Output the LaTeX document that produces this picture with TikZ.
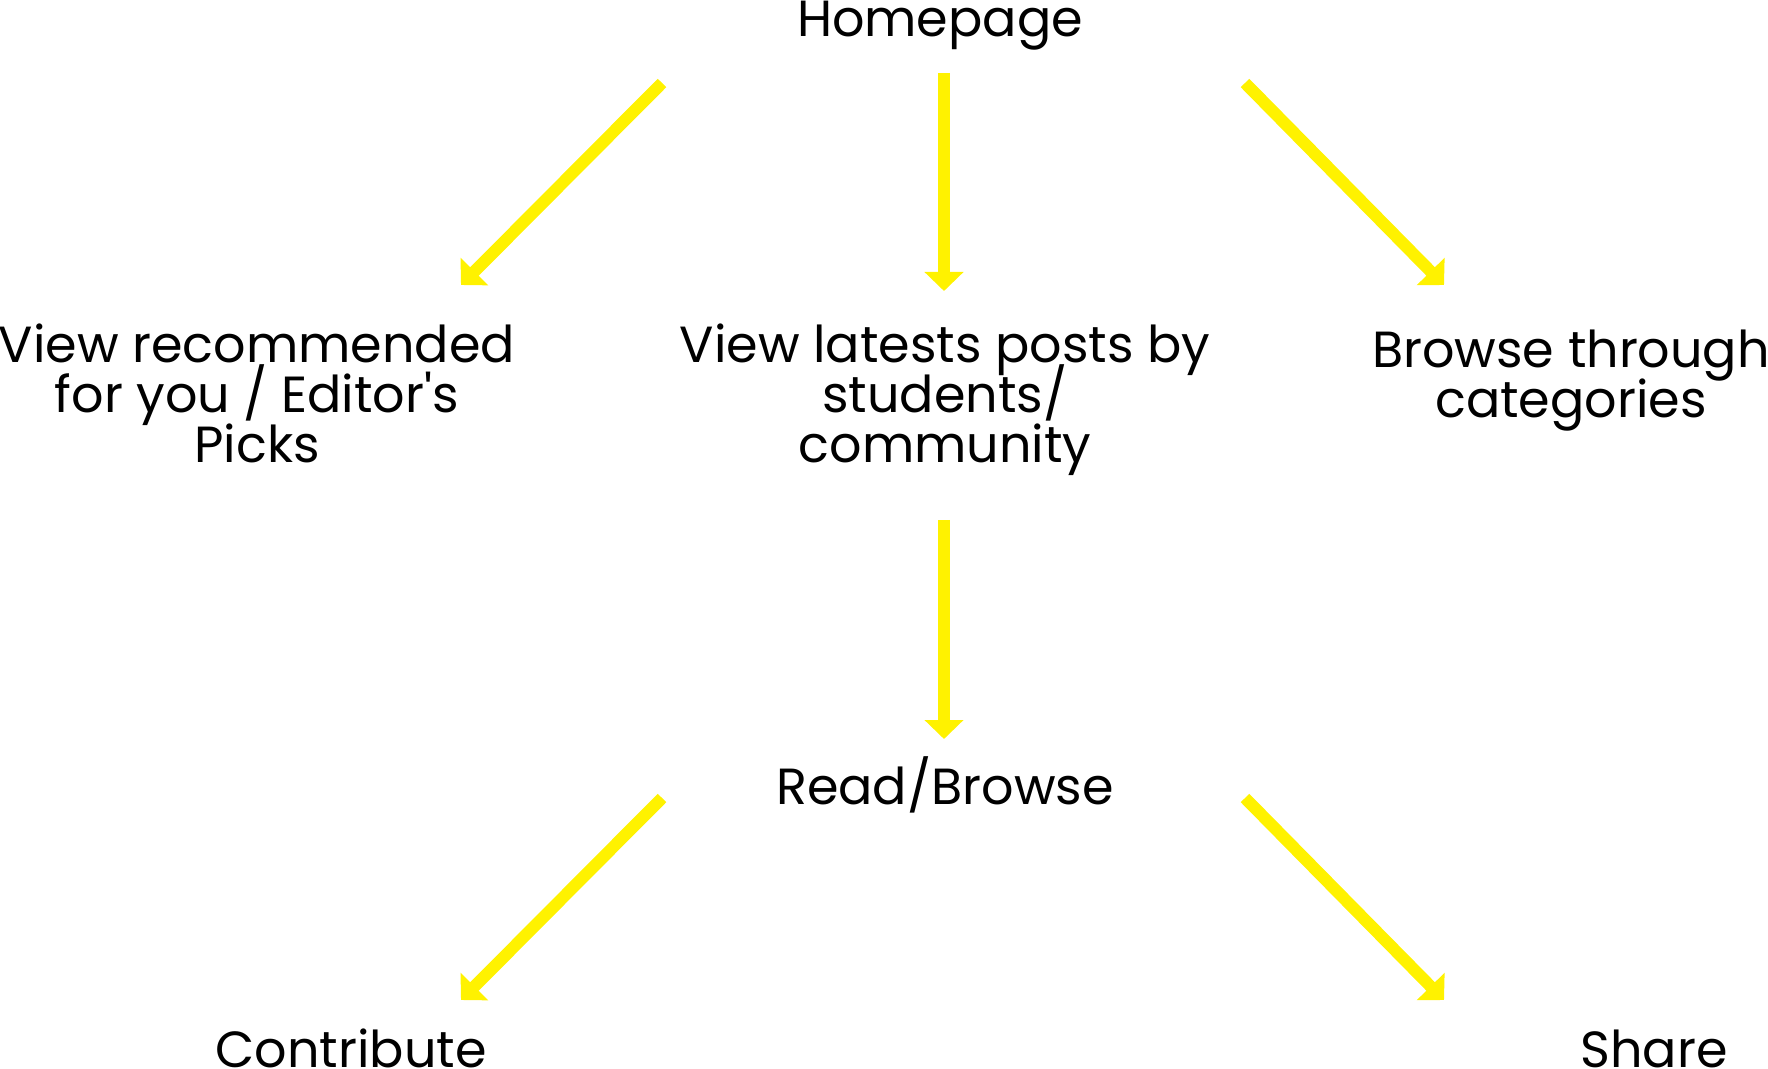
\documentclass[tikz,border=0pt]{standalone}
\usepackage{fontspec}
\setmainfont{Poppins}
\usepackage{tikz}
\usetikzlibrary{arrows.meta}

\newcommand{\flowfont}{\fontsize{25.4pt}{25pt}\selectfont\lineskiplimit=-100pt\relax}

\begin{document}
\begin{tikzpicture}[
    x=0.5pt, y=-0.5pt,
    txt/.style={font=\flowfont, align=center, anchor=base, inner sep=0pt},
    arrow/.style={-{Triangle[width=19pt, length=9.5pt]}, line width=6pt, color=yellow}
]
    \useasboundingbox (0,0) rectangle (1768,1069);

    \node[txt] (home) at (940,37) {Homepage};
    \node[txt] (recs) at (257,463) {View recommended\\for you / Editor\textquotesingle s\\Picks};
    \node[txt] (latest) at (945,463) {View latests posts by\\students/\\community};
    \node[txt] (cats) at (1571,418) {Browse through\\categories};
    \node[txt] (read) at (945,804) {Read/Browse};
    \node[txt] (contrib) at (351,1067) {Contribute};
    \node[txt] (share) at (1654,1067) {Share};

    % arrow ends
    \coordinate (homeL) at (662,83);
    \coordinate (homeM) at (944,73);
    \coordinate (homeR) at (1245,83);
    \coordinate (recsIn) at (461,285);
    \coordinate (latestIn) at (944,291);
    \coordinate (catsIn) at (1444,285);
    \coordinate (latestOut) at (944,520);
    \coordinate (readIn) at (944,739);
    \coordinate (readL) at (662,798);
    \coordinate (readR) at (1245,798);
    \coordinate (contribIn) at (461,1000);
    \coordinate (shareIn) at (1444,1000);

    \draw[arrow] (homeL) -- (recsIn);
    \draw[arrow] (homeM) -- (latestIn);
    \draw[arrow] (homeR) -- (catsIn);
    \draw[arrow] (latestOut) -- (readIn);
    \draw[arrow] (readL) -- (contribIn);
    \draw[arrow] (readR) -- (shareIn);
\end{tikzpicture}
\end{document}
